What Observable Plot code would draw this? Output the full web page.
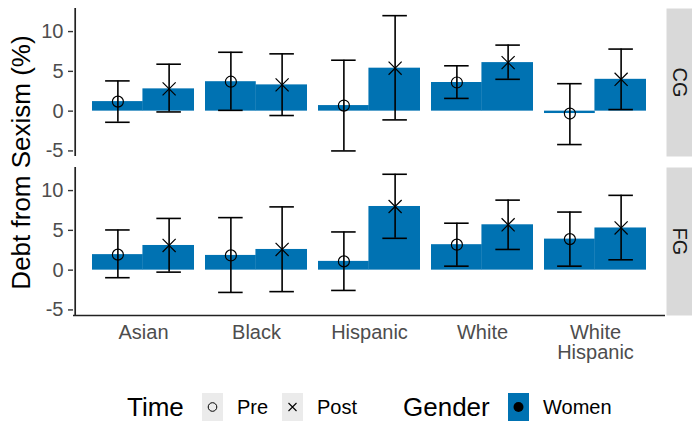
<!DOCTYPE html>
<html>
<head>
<meta charset="utf-8">
<script src="https://cdn.jsdelivr.net/npm/d3@7"></script>
<script src="https://cdn.jsdelivr.net/npm/@observablehq/plot@0.6"></script>
<style>
  body { margin: 0; background: #fff; font-family: "Liberation Sans", Arial, sans-serif; }
  #chart { width: 692px; height: 421px; position: relative; overflow: hidden; }
  .legend { position: relative; height: 51px; color: #000; }
  .legend > * { position: absolute; top: 37px; transform: translateY(-50%); white-space: nowrap; line-height: 1; }
  .legend .title { font-size: 26px; }
  .legend .lab { font-size: 20px; }
  .legend .key { width: 21px; height: 28px; display: block; }
</style>
</head>
<body>
<div id="chart"></div>
<script>
// ---- data ----
const races = ["Asian", "Black", "Hispanic", "White", "White Hispanic"];
const groups = ["CG", "FG"];
const times = ["Pre", "Post"];
const genders = ["Women"];
const yTicks = [-5, 0, 5, 10];
const yDomain = [-5.7, 12.9];

const cgPreMean  = [1.2, 3.7, 0.7, 3.6, -0.3];
const cgPreLow   = [-1.4, 0.1, -5.0, 1.6, -4.2];
const cgPreHigh  = [3.8, 7.4, 6.4, 5.7, 3.45];
const cgPostMean = [2.8, 3.3, 5.4, 6.1, 4.0];
const cgPostLow  = [-0.1, -0.55, -1.1, 4.0, 0.2];
const cgPostHigh = [5.9, 7.2, 12.0, 8.3, 7.8];

const fgPreMean  = [1.95, 1.85, 1.1, 3.2, 3.9];
const fgPreLow   = [-0.95, -2.8, -2.55, 0.5, 0.5];
const fgPreHigh  = [5.05, 6.6, 4.8, 5.9, 7.3];
const fgPostMean = [3.1, 2.6, 8.0, 5.7, 5.3];
const fgPostLow  = [-0.25, -2.7, 4.0, 2.6, 1.3];
const fgPostHigh = [6.5, 7.95, 12.05, 8.8, 9.4];

// ---- tidy rows built from the arrays ----
const series = {
  CG: {Pre: [cgPreMean, cgPreLow, cgPreHigh], Post: [cgPostMean, cgPostLow, cgPostHigh]},
  FG: {Pre: [fgPreMean, fgPreLow, fgPreHigh], Post: [fgPostMean, fgPostLow, fgPostHigh]}
};
const rows = [];
for (const g of groups) for (const t of times) {
  const [m, lo, hi] = series[g][t];
  races.forEach((r, i) => rows.push({group: g, time: t, race: r, mean: m[i], low: lo[i], high: hi[i]}));
}
const pre = rows.filter(d => d.time === "Pre");
const post = rows.filter(d => d.time === "Post");

// ---- layout ----
const W = 692, H = 370, mL = 73, mR = 27, mT = 7, mB = 55;
const innerW = W - mL - mR;
const padIn = 0.1, padOut = 0.15;
const step = innerW / (races.length - padIn + 2 * padOut);
const bw = step * (1 - padIn);
const q = bw / 4;
const capHalf = 12.5;
const blue = "#0072B2";
const stripW = 26;
const ebar = {stroke: "#000", strokeWidth: 1.6};

const chart = Plot.plot({
  width: W, height: H,
  marginLeft: mL, marginRight: mR, marginTop: mT, marginBottom: mB,
  style: {fontFamily: "'Liberation Sans', Arial, sans-serif", background: "#fff"},
  x: {type: "band", domain: races, paddingInner: padIn, paddingOuter: padOut, axis: null},
  y: {domain: yDomain, axis: null},
  fy: {domain: groups, paddingInner: 0.07, paddingOuter: 0, axis: null},
  marks: [
    // facet strips
    Plot.frame({fill: "#D9D9D9", stroke: null, insetLeft: innerW - stripW, dx: mR}),
    Plot.text(groups, {fy: d => d, text: d => d, frameAnchor: "right", dx: 14, rotate: 90,
      fontSize: 20, fill: "#1A1A1A", textAnchor: "middle"}),
    // bars
    Plot.barY(pre, {x: "race", y: "mean", fy: "group", fill: blue, insetRight: bw / 2}),
    Plot.barY(post, {x: "race", y: "mean", fy: "group", fill: blue, insetLeft: bw / 2 - 0.8}),
    // error bars
    Plot.ruleX(pre, {x: "race", y1: "low", y2: "high", fy: "group", dx: -q, ...ebar}),
    Plot.ruleX(post, {x: "race", y1: "low", y2: "high", fy: "group", dx: q, ...ebar}),
    Plot.tickY(pre, {x: "race", y: "low", fy: "group", dx: -q, inset: bw / 2 - capHalf, ...ebar}),
    Plot.tickY(pre, {x: "race", y: "high", fy: "group", dx: -q, inset: bw / 2 - capHalf, ...ebar}),
    Plot.tickY(post, {x: "race", y: "low", fy: "group", dx: q, inset: bw / 2 - capHalf, ...ebar}),
    Plot.tickY(post, {x: "race", y: "high", fy: "group", dx: q, inset: bw / 2 - capHalf, ...ebar}),
    // points
    Plot.dot(pre, {x: "race", y: "mean", fy: "group", dx: -q, r: 5.5, symbol: "circle", fill: "none", stroke: "#000", strokeWidth: 1.2}),
    Plot.dot(post, {x: "race", y: "mean", fy: "group", dx: q, r: 6, symbol: "times", stroke: "#000", strokeWidth: 1.2}),
    // axes
    Plot.axisY({ticks: yTicks, tickFormat: d => String(d), tickSize: 5, tickPadding: 5, fontSize: 20,
      color: "#4D4D4D", stroke: "#333", strokeWidth: 1.4, label: null}),
    Plot.axisX({tickSize: 0, tickPadding: 9, fontSize: 20, color: "#4D4D4D", lineHeight: 1.0,
      tickFormat: d => d.replace(" ", "\n"), label: null}),
    // axis lines (left in each panel, bottom under the last panel)
    Plot.ruleX([races[0]], {x: d => d, dx: -(padOut + (1 - padIn) / 2) * step, stroke: "#222", strokeWidth: 1.7}),
    Plot.ruleY([yDomain[0]], {y: d => d, fy: () => groups[groups.length - 1], stroke: "#222", strokeWidth: 1.7}),
    // y title
    Plot.text(["Debt from Sexism (%)"], {fy: () => groups[0], frameAnchor: "bottom-left", dx: -44, dy: 6,
      rotate: -90, textAnchor: "middle", fontSize: 26, fill: "#000"})
  ]
});

const root = document.getElementById("chart");
root.appendChild(chart);

// ---- legend ----
const legend = document.createElement("div");
legend.className = "legend";
const keySvg = (inner, bg, left) =>
  `<svg class="key" style="left:${left}px" viewBox="0 0 21 28"><rect width="21" height="28" fill="${bg}"/>${inner}</svg>`;
legend.innerHTML =
  `<span class="title" style="left:127px">Time</span>` +
  keySvg(`<circle cx="10.5" cy="14" r="4.3" fill="none" stroke="#000" stroke-width="1"/>`, "#EBEBEB", 202) +
  `<span class="lab" style="left:237px">${times[0]}</span>` +
  keySvg(`<path d="M6.5 10 L14.5 18 M14.5 10 L6.5 18" stroke="#000" stroke-width="1.1"/>`, "#EBEBEB", 282) +
  `<span class="lab" style="left:317px">${times[1]}</span>` +
  `<span class="title" style="left:403px">Gender</span>` +
  keySvg(`<circle cx="10.5" cy="14" r="5" fill="#000"/>`, blue, 508) +
  `<span class="lab" style="left:543px">${genders[0]}</span>`;
root.appendChild(legend);
</script>
</body>
</html>
